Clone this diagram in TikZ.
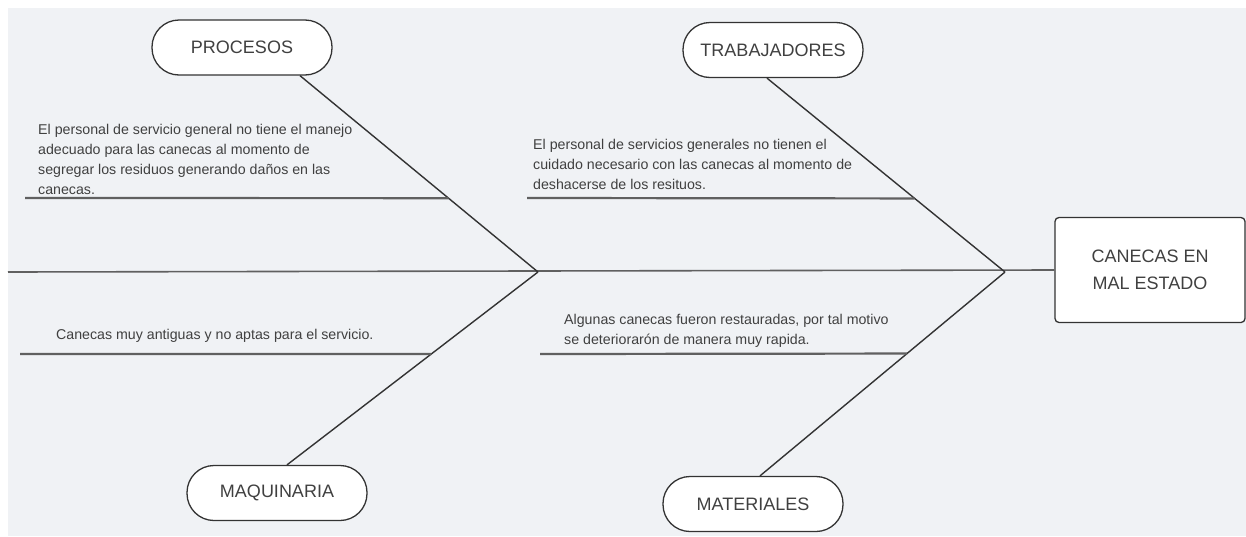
\documentclass[tikz,border=0pt]{standalone}
\usepackage{fontspec}
\setmainfont{Liberation Sans}
\usetikzlibrary{calc}
\definecolor{bg}{HTML}{F0F2F5}
\definecolor{ink}{HTML}{333333}
\definecolor{subc}{HTML}{606060}
\definecolor{txt}{HTML}{404040}
\begin{document}
\begin{tikzpicture}[x=1pt,y=-1pt,
  cat/.style={draw=ink, line width=1.3pt, fill=white, rounded corners=27pt,
    minimum width=180pt, minimum height=55pt, inner sep=0pt,
    font=\fontsize{18}{20}\selectfont, text=txt},
  effect/.style={draw=ink, line width=1.3pt, fill=white, rounded corners=4pt,
    minimum width=190pt, minimum height=105pt, align=center, inner sep=0pt,
    font=\fontsize{18}{27}\selectfont, text=txt},
  bone/.style={draw=ink, line width=1.4pt},
  spine/.style={draw=subc, line width=1.6pt},
  sub/.style={draw=subc, line width=2.2pt},
  cause/.style={anchor=north west, inner sep=0pt, align=left,
    font=\fontsize{14.2}{20}\selectfont, text=txt}]
\useasboundingbox (0,0) rectangle (1246,536);
\fill[bg] (8,8) rectangle (1246,536);

% effect and categories
\node[effect] (eff) at (1150,270) {CANECAS EN\\MAL ESTADO};
\node[cat] (proc) at (242,47.5) {PROCESOS};
\node[cat] (trab) at (773,50) {TRABAJADORES};
\node[cat] (maq) at (277,493) {MAQUINARIA};
\node[cat] (mat) at (753,504) {MATERIALES};

% spine
\coordinate (s0) at (8,272);
\coordinate (j1) at (538,272);
\coordinate (j2) at (1005,272);
\draw[spine] (s0) -- (eff.west);

% bones
\coordinate (pb) at ([xshift=58pt]proc.south);
\coordinate (tb) at ([xshift=-6pt]trab.south);
\coordinate (qb) at ([xshift=10pt]maq.north);
\coordinate (mb) at ([xshift=7pt]mat.north);
\draw[bone] (pb) -- (j1);
\draw[bone] (tb) -- (j2);
\draw[bone] (qb) -- (j1);
\draw[bone] (mb) -- (j2);

% sub-lines
\coordinate (ps) at (25,198);
\coordinate (pe) at ($(pb)!0.624!(j1)$);
\coordinate (ts) at (527,198);
\coordinate (te) at ($(tb)!0.6205!(j2)$);
\coordinate (qs) at (20,354);
\coordinate (qe) at ($(qb)!0.575!(j1)$);
\coordinate (ms) at (540,354);
\coordinate (me) at ($(mb)!0.6!(j2)$);
\draw[sub] (ps) -- (pe);
\draw[sub] (ts) -- (te);
\draw[sub] (qs) -- (qe);
\draw[sub] (ms) -- (me);

% causes
\node[cause] (c1) at (38,124) {El personal de servicio general no tiene el manejo\\adecuado para las canecas al momento de\\segregar los residuos generando daños en las\\canecas.};
\node[cause] (c2) at (533,139) {El personal de servicios generales no tienen el\\cuidado necesario con las canecas al momento de\\deshacerse de los resituos.};
\node[cause] (c3) at (56,329) {Canecas muy antiguas y no aptas para el servicio.};
\node[cause] (c4) at (564,314) {Algunas canecas fueron restauradas, por tal motivo\\se deteriorarón de manera muy rapida.};
\end{tikzpicture}
\end{document}
